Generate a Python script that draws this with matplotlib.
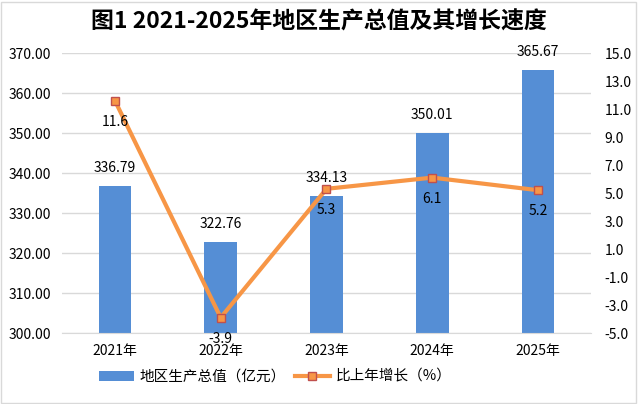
import matplotlib.pyplot as plt
from matplotlib.patches import Rectangle

plt.rcParams['font.family'] = ['Noto Sans CJK SC', 'DejaVu Sans']

years = ["2021年", "2022年", "2023年", "2024年", "2025年"]
gdp = [336.79, 322.76, 334.13, 350.01, 365.67]
growth = [11.6, -3.9, 5.3, 6.1, 5.2]
gdp_labels = ["336.79", "322.76", "334.13", "350.01", "365.67"]
growth_labels = ["11.6", "-3.9", "5.3", "6.1", "5.2"]

fig = plt.figure(figsize=(6.38, 4.04), dpi=100)
ax = fig.add_axes([0.0972, 0.1757, 0.8291, 0.6931])
ax2 = ax.twinx()

x = list(range(len(years)))
bars = ax.bar(x, gdp, width=0.31, color="#558ed5", zorder=2, label="地区生产总值（亿元）")
ax.set_ylim(300, 370)
ax.set_yticks([300 + 10 * i for i in range(8)])
ax.set_yticklabels(["%.2f" % (300 + 10 * i) for i in range(8)], fontsize=10)
ax.set_xlim(-0.5, 4.5)
ax.set_xticks(x)
ax.set_xticklabels(years, fontsize=10)
ax.grid(axis="y", color="#d9d9d9", linewidth=1, zorder=0)
ax.tick_params(length=0, pad=8)
for s in ["top", "left", "right"]:
    ax.spines[s].set_visible(False)
    ax2.spines[s].set_visible(False)
ax.spines["bottom"].set_color("#d9d9d9")
ax2.spines["bottom"].set_visible(False)

for xi, v, t in zip(x, gdp, gdp_labels):
    ax.annotate(t, (xi, v), xytext=(0, 18), textcoords="offset pixels",
                ha="center", va="center", fontsize=10, zorder=5)

line, = ax2.plot(x, growth, color="#f79646", linewidth=3, marker="s", markersize=6,
                 markerfacecolor="#f79646", markeredgecolor="#c0504d", markeredgewidth=1,
                 zorder=4, label="比上年增长（%）")
ax2.set_ylim(-5, 15)
ax2.set_yticks([-5 + 2 * i for i in range(11)])
ax2.set_yticklabels(["%.1f" % (-5 + 2 * i) for i in range(11)], fontsize=10)
ax2.tick_params(length=0, pad=10)

for xi, v, t in zip(x, growth, growth_labels):
    ax2.annotate(t, (xi, v), xytext=(0, -21), textcoords="offset pixels",
                 ha="center", va="center", fontsize=10, zorder=5)

fig.text(0.5, 0.946, "图1 2021-2025年地区生产总值及其增长速度", ha="center", va="center",
         fontsize=16.5, fontweight="bold")

fig.legend(handles=[bars, line], loc="center", bbox_to_anchor=(0.431, 0.067), ncol=2,
           frameon=False, fontsize=10.5, handlelength=2.4, columnspacing=0.6, handletextpad=0.4)

fig.patches.append(Rectangle((0.002, 0.003), 0.995, 0.993, transform=fig.transFigure,
                             fill=False, edgecolor="#d9d9d9", linewidth=1))

fig.savefig("out.png", dpi=100)
